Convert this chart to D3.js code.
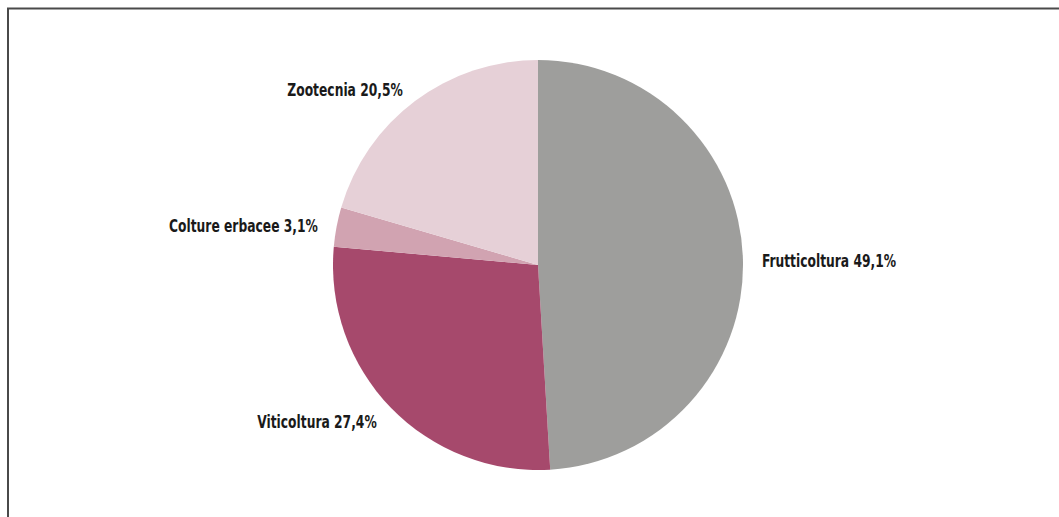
<!DOCTYPE html>
<html>
<head>
<meta charset="utf-8">
<script src="https://cdn.jsdelivr.net/npm/d3@7"></script>
<style>
  body { margin: 0; background: #fff; }
  text { font-family: "DejaVu Sans Condensed", "DejaVu Sans", sans-serif; font-stretch: condensed; font-weight: bold; font-size: 18px; fill: #1a1a1a; }
</style>
</head>
<body>
<div id="chart"></div>
<script>
var categories = ["Frutticoltura", "Viticoltura", "Colture erbacee", "Zootecnia"];
var values = [49.1, 27.4, 3.1, 20.5];
var labels = ["49,1%", "27,4%", "3,1%", "20,5%"];
var colors = ["#9e9e9c", "#a6496c", "#d1a3b1", "#e6d0d7"];

var svg_width = 1059;
var svg_height = 517;
var cx = 538, cy = 265, radius = 205;

var mysvg = d3.select("#chart")
  .append("svg")
  .attr("width", svg_width)
  .attr("height", svg_height);

// frame (top + left edges only visible)
mysvg.append("path")
  .attr("d", "M8,517 L8,8.5 L1059,8.5")
  .attr("fill", "none")
  .attr("stroke", "#4a4a4a")
  .attr("stroke-width", 2);

var mydata = categories.map(function(c, i){ return {name: c, value: values[i], label: labels[i], col: colors[i]}; });

var pie = d3.pie().sort(null).value(function(d){ return d.value; });
var arc = d3.arc().innerRadius(0).outerRadius(radius);

var g = mysvg.append("g").attr("transform", "translate(" + cx + "," + cy + ")");

var arcs = pie(mydata);

g.selectAll("path.slice")
  .data(arcs)
  .enter()
  .append("path")
  .attr("class", "slice")
  .attr("d", arc)
  .attr("fill", function(d){ return d.data.col; });

var labelR = radius + 17;
var sx = 0.76; // squeeze text horizontally to look like a condensed face
g.selectAll("text")
  .data(arcs)
  .enter()
  .append("text")
  .attr("text-anchor", function(d){
    var a = (d.startAngle + d.endAngle) / 2;
    return Math.sin(a) >= 0 ? "start" : "end";
  })
  .attr("transform", function(d){
    var a = (d.startAngle + d.endAngle) / 2;
    var x = Math.sin(a) * labelR + (Math.sin(a) >= 0 ? 2 : -2);
    var y = -Math.cos(a) * labelR + 2;
    return "translate(" + x + "," + y + ") scale(" + sx + ",1)";
  })
  .attr("dy", "0.35em")
  .text(function(d){ return d.data.name + " " + d.data.label; });
</script>
</body>
</html>
